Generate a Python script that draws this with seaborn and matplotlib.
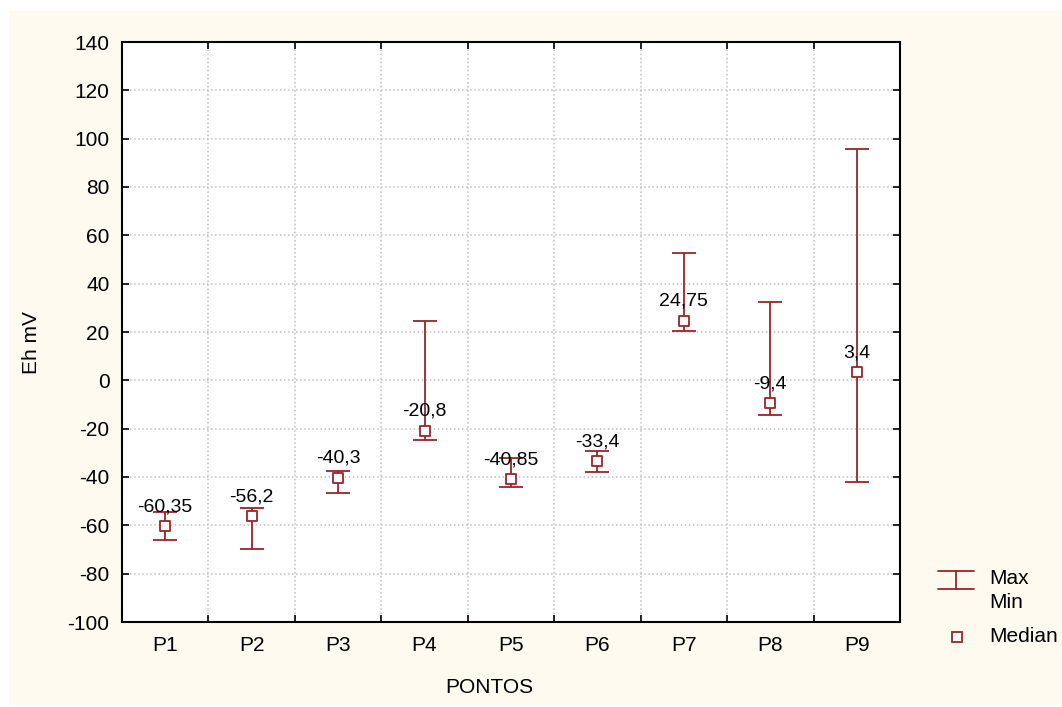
import matplotlib
matplotlib.use("Agg")
import matplotlib.pyplot as plt
import seaborn as sns
import pandas as pd
from matplotlib.patches import Rectangle
from matplotlib.lines import Line2D

# values (Eh in mV)
pontos = ["P1", "P2", "P3", "P4", "P5", "P6", "P7", "P8", "P9"]
mediana = [-60.35, -56.2, -40.3, -20.8, -40.85, -33.4, 24.75, -9.4, 3.4]
minimo = [-66.2, -69.7, -46.8, -24.5, -44.2, -38.1, 20.4, -14.5, -42.1]
maximo = [-54.6, -52.8, -37.4, 24.4, -32.0, -29.4, 52.7, 32.6, 95.6]
y_ticks = list(range(-100, 141, 20))

df = pd.DataFrame({"ponto": pontos, "median": mediana, "min": minimo, "max": maximo})
df["err_lo"] = df["median"] - df["min"]
df["err_hi"] = df["max"] - df["median"]

red = "#9B2429"
sns.set_style("white")
plt.rcParams["font.family"] = ["Liberation Sans", "DejaVu Sans"]
plt.rcParams["axes.unicode_minus"] = False
plt.rcParams["text.color"] = "black"
plt.rcParams["axes.labelcolor"] = "black"
plt.rcParams["xtick.color"] = "black"
plt.rcParams["ytick.color"] = "black"

W, H = 1062, 707
fig = plt.figure(figsize=(W / 100, H / 100), dpi=100, facecolor="white")
fig.patches.append(Rectangle((9 / W, 2 / H), 1 - 9 / W, 694 / H,
                             transform=fig.transFigure, facecolor="#FEFAF0",
                             edgecolor="none", zorder=-10))
ax = fig.add_axes([122 / W, 85 / H, 778 / W, 580 / H])
ax.set_facecolor("white")

ax.errorbar(df["ponto"], df["median"], yerr=[df["err_lo"], df["err_hi"]],
            fmt="none", ecolor=red, elinewidth=1.3, capsize=8.3, capthick=1.3,
            zorder=2)
sns.scatterplot(data=df, x="ponto", y="median", marker="s", s=55,
                facecolor="white", edgecolor=red, linewidth=1.3, zorder=3, ax=ax)

for i, row in df.iterrows():
    txt = f"{row['median']:g}".replace(".", ",")
    ax.annotate(txt, (i, row["median"]), xytext=(0, 14), textcoords="offset points",
                ha="center", va="center", fontsize=14, color="black", zorder=4)

ax.set_xlim(-0.5, 8.5)
ax.set_ylim(-100, 140)
ax.set_yticks(y_ticks)
ax.set_xticks(range(len(pontos)))
ax.set_xticklabels(pontos)
ax.set_xticks([i + 0.5 for i in range(len(pontos) - 1)], minor=True)

ax.tick_params(axis="x", which="major", length=0, pad=10, labelsize=15,
               labelcolor="black")
ax.tick_params(axis="x", which="minor", direction="in", length=5, width=1.2,
               top=True, bottom=True, color="black")
ax.tick_params(axis="y", which="major", direction="in", length=5, width=1.2,
               left=True, right=True, pad=9, labelsize=15, color="black",
               labelcolor="black")

ax.xaxis.grid(True, which="minor", linestyle=":", color="#BDBDBD", linewidth=1.1)
ax.xaxis.grid(False, which="major")
ax.yaxis.grid(True, which="major", linestyle=":", color="#BDBDBD", linewidth=1.1)

for sp in ax.spines.values():
    sp.set_color("black")
    sp.set_linewidth(1.5)

ax.set_xlabel("PONTOS", fontsize=15, color="black")
ax.set_ylabel("Eh mV", fontsize=15, color="black")
ax.xaxis.set_label_coords((489 - 122) / 778, -56 / 580)
ax.yaxis.set_label_coords((41 - 122) / 778, (622 - 343) / 580)

# legend drawn by hand (min/max bar + median square)
def fx(px):
    return px / W

def fy(py):
    return 1 - py / H

lw = 1.3
fig.add_artist(Line2D([fx(938), fx(974)], [fy(571), fy(571)], color=red, lw=lw))
fig.add_artist(Line2D([fx(938), fx(974)], [fy(589), fy(589)], color=red, lw=lw))
fig.add_artist(Line2D([fx(956), fx(956)], [fy(571), fy(589)], color=red, lw=lw))
fig.add_artist(Line2D([fx(957)], [fy(637)], linestyle="none", marker="s", markersize=7,
                      markerfacecolor="white", markeredgecolor=red, markeredgewidth=1.3))
fig.text(fx(989), fy(578), "Max", fontsize=15, va="center", ha="left")
fig.text(fx(989), fy(603), "Min", fontsize=15, va="center", ha="left")
fig.text(fx(989), fy(637), "Median", fontsize=15, va="center", ha="left")

fig.savefig("out.png", dpi=100, facecolor=fig.get_facecolor())
